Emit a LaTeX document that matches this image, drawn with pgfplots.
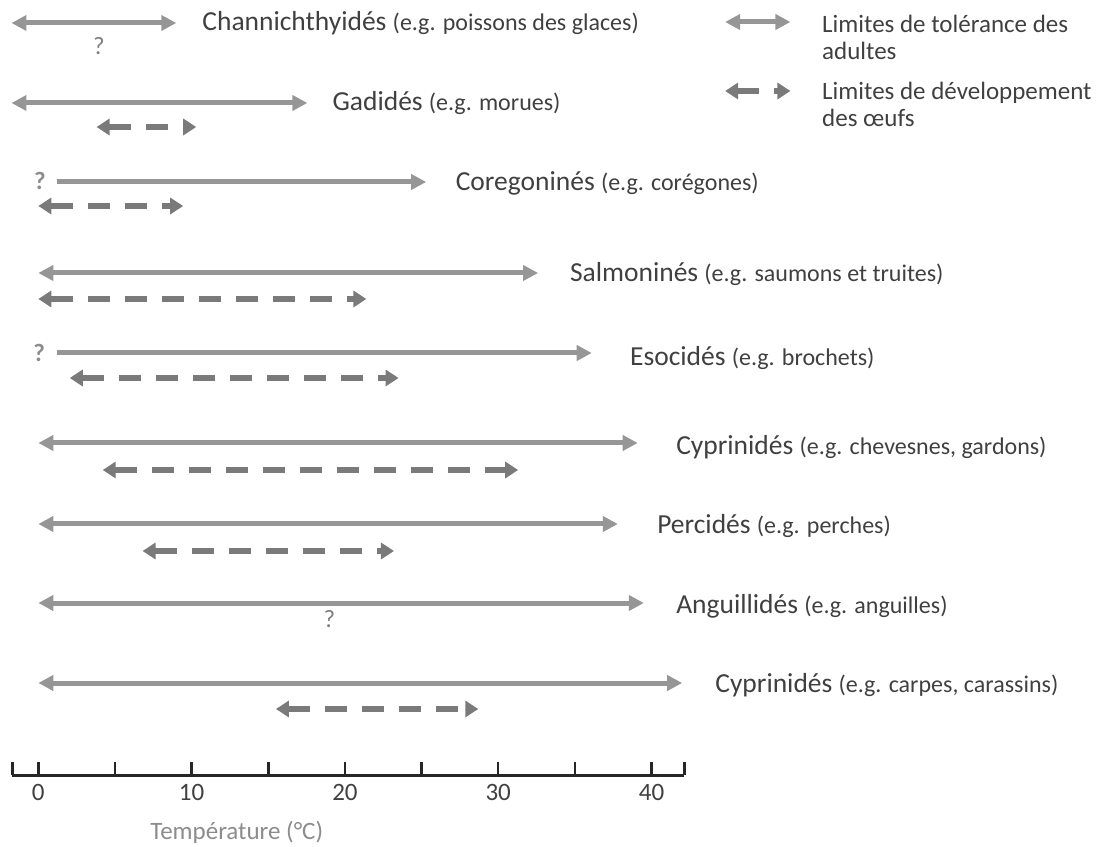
\documentclass[border=0pt]{standalone}
\usepackage{pgfplots}
\pgfplotsset{compat=1.18}
\usetikzlibrary{arrows.meta}
\usepackage{fontspec}
\setmainfont{Carlito}

\definecolor{adult}{HTML}{969696}
\definecolor{egg}{HTML}{7A7A7A}
\definecolor{txt}{HTML}{404040}
\definecolor{lbl}{HTML}{8C8C8C}
\definecolor{qm}{HTML}{808080}
\definecolor{axisc}{HTML}{262626}

\newcommand\famf{\fontsize{27.5}{30}\selectfont}
\newcommand\egf{\fontsize{24}{30}\selectfont}
\newcommand\legf{\fontsize{25}{30}\selectfont}

% y values are rows measured from the top of the picture (negative = downwards)
\tikzset{
  adult/.style={line width=5pt, color=adult, >={Triangle[length=15pt,width=15pt]}, <->},
  adultone/.style={adult, ->},
  egg/.style={line width=6pt, color=egg, dash pattern=on 22pt off 15pt,
    >={Triangle[length=13pt,width=16pt]}, <->},
  lab/.style={anchor=base west, inner sep=0pt, text=txt},
  qmark/.style={anchor=base, inner sep=0pt, text=qm, font=\fontsize{25}{30}\selectfont},
}

\begin{document}
\begin{tikzpicture}
\begin{axis}[
    x=15.33pt, y=1pt,
    xmin=-1.7, xmax=42.15, ymin=-775, ymax=0,
    axis x line=bottom, axis y line=none,
    x axis line style={-, line width=3pt, color=axisc},
    xtick={0,5,...,40},
    xticklabels={0,,10,,20,,30,,40},
    extra x ticks={-1.7,42.15}, extra x tick labels={},
    xtick align=inside, major tick length=13pt,
    tick style={line width=2.5pt, color=axisc},
    xticklabel style={font=\fontsize{25}{25}\selectfont, text=txt, yshift=-6pt},
    xlabel={Température (°C)},
    every axis x label/.style={at={(axis cs:12.94,-832)}, anchor=center,
      font=\fontsize{25}{25}\selectfont, text=lbl},
    clip=false,
]
% adult tolerance limits
\addplot[adult] coordinates {(-1.75,-23) (9.0,-23)};
\addplot[adult] coordinates {(-1.75,-103) (17.55,-103)};
\addplot[adultone] coordinates {(1.2,-182) (25.3,-182)};
\addplot[adult] coordinates {(0,-273) (32.6,-273)};
\addplot[adultone] coordinates {(1.2,-353) (36.1,-353)};
\addplot[adult] coordinates {(0,-443) (39.1,-443)};
\addplot[adult] coordinates {(0,-524) (37.8,-524)};
\addplot[adult] coordinates {(0,-603) (39.5,-603)};
\addplot[adult] coordinates {(0,-683) (42.0,-683)};
% egg development limits
\addplot[egg] coordinates {(3.8,-127) (10.3,-127)};
\addplot[egg] coordinates {(0,-206) (9.45,-206)};
\addplot[egg] coordinates {(0,-299) (21.4,-299)};
\addplot[egg] coordinates {(2.05,-378) (23.5,-378)};
\addplot[egg] coordinates {(4.2,-470) (31.3,-470)};
\addplot[egg] coordinates {(6.8,-551) (23.2,-551)};
\addplot[egg] coordinates {(15.5,-709) (28.7,-709)};
% legend samples
\addplot[adult] coordinates {(44.8,-22) (49.06,-22)};
\addplot[egg] coordinates {(44.8,-91) (49.06,-91)};

% question marks
\node[qmark] at (axis cs:3.95,-55) {?};
\node[qmark, text=lbl, font=\fontsize{25}{30}\selectfont\bfseries] at (axis cs:0.1,-190) {?};
\node[qmark, text=lbl, font=\fontsize{25}{30}\selectfont\bfseries] at (axis cs:0.05,-362) {?};
\node[qmark] at (axis cs:18.99,-627) {?};

% family labels
\node[lab] at (axis cs:10.69,-30.5) {\famf Channichthyidés \egf(e.g. poissons des glaces)};
\node[lab] at (axis cs:19.18,-110.5) {\famf Gadidés \egf(e.g. morues)};
\node[lab] at (axis cs:27.22,-190.5) {\famf Coregoninés \egf(e.g. corégones)};
\node[lab] at (axis cs:34.67,-281.5) {\famf Salmoninés \egf(e.g. saumons et truites)};
\node[lab] at (axis cs:38.59,-365.5) {\famf Esocidés \egf(e.g. brochets)};
\node[lab] at (axis cs:41.6,-454.5) {\famf Cyprinidés \egf(e.g. chevesnes, gardons)};
\node[lab] at (axis cs:40.36,-533.5) {\famf Percidés \egf(e.g. perches)};
\node[lab] at (axis cs:41.6,-613.5) {\famf Anguillidés \egf(e.g. anguilles)};
\node[lab] at (axis cs:44.15,-692.5) {\famf Cyprinidés \egf(e.g. carpes, carassins)};

% legend text
\node[lab] at (axis cs:51.12,-33) {\legf Limites de tolérance des};
\node[lab] at (axis cs:51.12,-60) {\legf adultes};
\node[lab] at (axis cs:51.12,-100) {\legf Limites de développement};
\node[lab] at (axis cs:51.12,-127) {\legf des œufs};

% page frame with the reference's proportions
\path (axis cs:-2.5,0) rectangle (axis cs:69.45,-845);
\end{axis}
\end{tikzpicture}
\end{document}
